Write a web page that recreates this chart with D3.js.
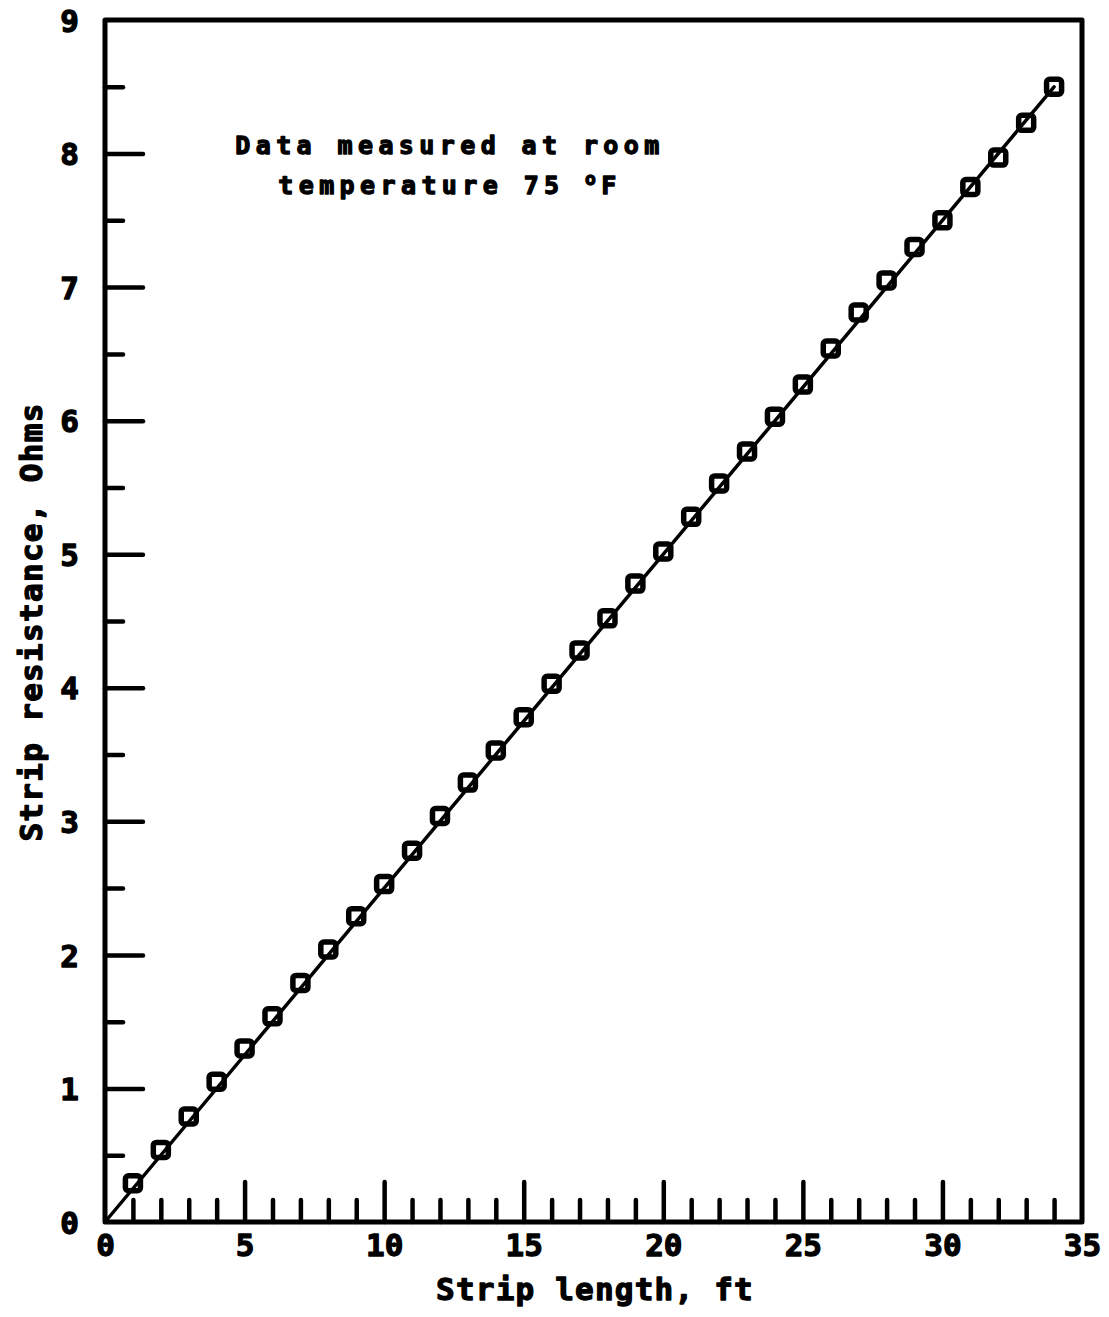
<!DOCTYPE html>
<html>
<head>
<meta charset="utf-8">
<script src="https://cdn.jsdelivr.net/npm/d3@7"></script>
<style>
  html, body { margin: 0; padding: 0; background: #fff; }
  svg text { font-family: "DejaVu Sans Mono", monospace; font-weight: bold; fill: #000; stroke: #000; stroke-width: 1.3px; stroke-linejoin: round; }
</style>
</head>
<body>
<svg id="chart" width="1109" height="1317"></svg>
<script>
// Strip length (ft) and measured strip resistance (Ohms)
const lengthFt = [1, 2, 3, 4, 5, 6, 7, 8, 9, 10, 11, 12, 13, 14, 15, 16, 17,
                  18, 19, 20, 21, 22, 23, 24, 25, 26, 27, 28, 29, 30, 31, 32, 33, 34];
const resistanceOhm = [0.29, 0.54, 0.79, 1.05, 1.30, 1.54, 1.79, 2.04, 2.29, 2.53, 2.78, 3.04,
                       3.29, 3.53, 3.78, 4.03, 4.28, 4.52, 4.78, 5.02, 5.28, 5.53, 5.77, 6.03,
                       6.27, 6.54, 6.81, 7.05, 7.30, 7.50, 7.75, 7.97, 8.23, 8.50];
// Fitted straight line through the origin
const fitX = [0, 34];
const fitY = [0, 8.5];

const xTicks = [0, 5, 10, 15, 20, 25, 30, 35];
const yTicks = [0, 1, 2, 3, 4, 5, 6, 7, 8, 9];
const xMinorTicks = d3.range(0, 36, 1);
const yMinorTicks = d3.range(0, 9.01, 0.5);

const plot = { left: 105, top: 20, right: 1082, bottom: 1222 };

const svg = d3.select("#chart");
const x = d3.scaleLinear().domain([0, 35]).range([plot.left, plot.right]);
const y = d3.scaleLinear().domain([0, 9]).range([plot.bottom, plot.top]);

// Inward ticks along the bottom and left edges
const xAxisMinor = d3.axisTop(x).tickValues(xMinorTicks.filter(v => v % 5 !== 0)).tickSize(22).tickFormat("");
const xAxisMajor = d3.axisTop(x).tickValues(xTicks.slice(1, -1)).tickSize(40).tickFormat("");
const yAxisMinor = d3.axisRight(y).tickValues(yMinorTicks.filter(v => v % 1 !== 0)).tickSize(18).tickFormat("");
const yAxisMajor = d3.axisRight(y).tickValues(yTicks.slice(1, -1)).tickSize(38).tickFormat("");

function styleTicks(g) {
  g.select(".domain").remove();
  g.selectAll(".tick line").attr("stroke", "#000").attr("stroke-width", 4.5).attr("stroke-linecap", "round");
}

svg.append("g").attr("transform", `translate(0,${plot.bottom})`).call(xAxisMinor).call(styleTicks);
svg.append("g").attr("transform", `translate(0,${plot.bottom})`).call(xAxisMajor).call(styleTicks);
svg.append("g").attr("transform", `translate(${plot.left},0)`).call(yAxisMinor).call(styleTicks);
svg.append("g").attr("transform", `translate(${plot.left},0)`).call(yAxisMajor).call(styleTicks);

// Frame
svg.append("rect")
  .attr("x", plot.left).attr("y", plot.top)
  .attr("width", plot.right - plot.left).attr("height", plot.bottom - plot.top)
  .attr("fill", "none").attr("stroke", "#000").attr("stroke-width", 5)
  .attr("stroke-linejoin", "round");

// Tick labels
const xLabelAxis = d3.axisBottom(x).tickValues(xTicks).tickSize(0).tickPadding(0).tickFormat(d3.format("d"));
svg.append("g").attr("transform", `translate(0,${plot.bottom})`).call(xLabelAxis)
  .call(g => g.select(".domain").remove())
  .call(g => g.selectAll("text").attr("font-size", 31).attr("dy", 0).attr("y", 34)
    .attr("font-family", "DejaVu Sans Mono").attr("font-weight", "bold").attr("fill", "#000"));

const yLabelAxis = d3.axisLeft(y).tickValues(yTicks).tickSize(0).tickPadding(0).tickFormat(d3.format("d"));
svg.append("g").attr("transform", `translate(${plot.left},0)`).call(yLabelAxis)
  .call(g => g.select(".domain").remove())
  .call(g => g.selectAll("text").attr("font-size", 31).attr("x", -26).attr("dy", "0.36em")
    .attr("font-family", "DejaVu Sans Mono").attr("font-weight", "bold").attr("fill", "#000"));

// Data markers
const pts = lengthFt.map((v, i) => [v, resistanceOhm[i]]);
svg.append("g").selectAll("rect").data(pts).join("rect")
  .attr("x", d => x(d[0]) - 7.5).attr("y", d => y(d[1]) - 7.5)
  .attr("width", 15).attr("height", 15).attr("rx", 3)
  .attr("fill", "#fff").attr("stroke", "#000").attr("stroke-width", 5.5);

// Fit line
const fit = fitX.map((v, i) => [v, fitY[i]]);
svg.append("path").datum(fit)
  .attr("d", d3.line().x(d => x(d[0])).y(d => y(d[1])))
  .attr("fill", "none").attr("stroke", "#000").attr("stroke-width", 3.5).attr("stroke-linecap", "round");

// Axis titles
svg.append("text").attr("x", 595).attr("y", 1300).attr("text-anchor", "middle")
  .attr("font-size", 31).attr("letter-spacing", 1.2).text("Strip length, ft");
svg.append("text").attr("transform", "translate(42,622) rotate(-90)").attr("text-anchor", "middle")
  .attr("font-size", 31).attr("letter-spacing", 1.3).text("Strip resistance, Ohms");

// Annotation
const note = svg.append("text").attr("text-anchor", "middle").attr("font-size", 25).attr("letter-spacing", 5.4);
note.append("tspan").attr("x", 450).attr("y", 154).text("Data measured at room");
const line2 = svg.append("text").attr("text-anchor", "middle").attr("font-size", 25).attr("letter-spacing", 5.4)
  .attr("x", 450).attr("y", 194);
line2.append("tspan").text("temperature 75 ");
line2.append("tspan").attr("font-size", 18).attr("dy", -9).text("o");
line2.append("tspan").attr("dy", 9).text("F");
</script>
</body>
</html>
